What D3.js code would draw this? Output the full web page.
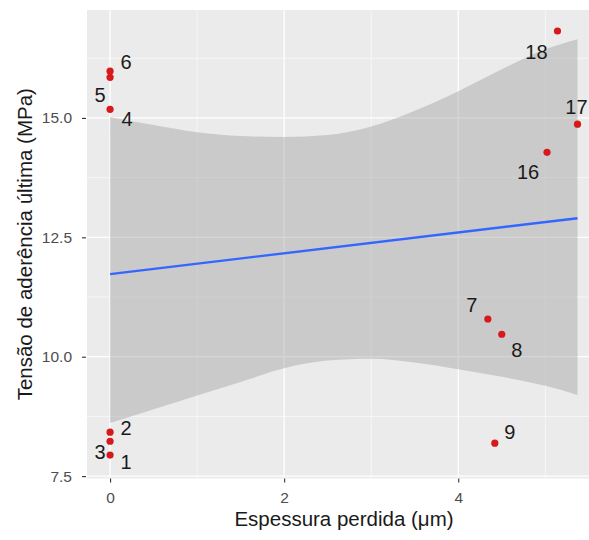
<!DOCTYPE html>
<html><head><meta charset="utf-8">
<script src="https://cdn.jsdelivr.net/npm/d3@7"></script>
<style>html,body{margin:0;padding:0;background:#fff;} svg{display:block;}</style>
</head><body>
<script>
// ---- data ----
const ids      = ["1","2","3","4","5","6","7","8","9","16","17","18"];
const xValues  = [0, 0, 0, 0, 0, 0, 4.34, 4.50, 4.42, 5.02, 5.37, 5.14];
const yValues  = [7.94, 8.42, 8.23, 15.18, 15.85, 15.98, 10.79, 10.47, 8.19, 14.28, 14.87, 16.82];
const fitX     = [0, 5.37];
const fitY     = [11.73, 12.90];
const bandX    = [0, 0.5, 1, 1.5, 2, 2.5, 3, 3.5, 4, 4.5, 5, 5.37];
const bandLow  = [8.61, 8.90, 9.19, 9.47, 9.76, 9.92, 9.96, 9.88, 9.74, 9.58, 9.39, 9.20];
const bandHigh = [15.02, 14.85, 14.70, 14.62, 14.60, 14.64, 14.82, 15.15, 15.56, 16.02, 16.44, 16.65];
const xTicks   = [0, 2, 4];
const yTicks   = [7.5, 10.0, 12.5, 15.0];
const xMinor   = [1, 3, 5];
const yMinor   = [8.75, 11.25, 13.75, 16.25];
const xTitle   = "Espessura perdida (μm)";
const yTitle   = "Tensão de aderência última (MPa)";
// label nudges (px) — layout, not data
const labelDx  = [16, 16, -10, 17, -10, 16, -16, 15, 15, -19, -1, -21];
const labelDy  = [7, -4, 11, 10, 18, -9, -14, 16, -11, 20, -17, 21];

// ---- layout ----
const W = 589, H = 540;
const P = {left: 87, right: 601, top: 10, bottom: 478.5};
const x = d3.scaleLinear().domain([-0.265, 5.64]).range([P.left, P.right]);
const y = d3.scaleLinear().domain([7.45, 17.26]).range([P.bottom, P.top]);

const svg = d3.select("body").append("svg").attr("width", W).attr("height", H)
  .style("font-family", "'Liberation Sans', Arial, sans-serif");

svg.append("rect").attr("x", P.left).attr("y", P.top)
  .attr("width", P.right - P.left).attr("height", P.bottom - P.top).attr("fill", "#EBEBEB");

const grid = svg.append("g");
grid.selectAll(".xm").data(xMinor).join("line")
  .attr("x1", d => x(d)).attr("x2", d => x(d)).attr("y1", P.top).attr("y2", P.bottom)
  .attr("stroke", "#fff").attr("stroke-width", 0.6);
grid.selectAll(".ym").data(yMinor).join("line")
  .attr("y1", d => y(d)).attr("y2", d => y(d)).attr("x1", P.left).attr("x2", P.right)
  .attr("stroke", "#fff").attr("stroke-width", 0.6);
grid.selectAll(".xM").data(xTicks).join("line")
  .attr("x1", d => x(d)).attr("x2", d => x(d)).attr("y1", P.top).attr("y2", P.bottom)
  .attr("stroke", "#fff").attr("stroke-width", 1.3);
grid.selectAll(".yM").data(yTicks).join("line")
  .attr("y1", d => y(d)).attr("y2", d => y(d)).attr("x1", P.left).attr("x2", P.right)
  .attr("stroke", "#fff").attr("stroke-width", 1.3);

// confidence band
const band = bandX.map((v, i) => ({x: v, lo: bandLow[i], hi: bandHigh[i]}));
svg.append("path").datum(band)
  .attr("d", d3.area().x(d => x(d.x)).y0(d => y(d.lo)).y1(d => y(d.hi)).curve(d3.curveMonotoneX))
  .attr("fill", "#999999").attr("fill-opacity", 0.4);

// regression line
const fit = fitX.map((v, i) => ({x: v, y: fitY[i]}));
svg.append("path").datum(fit)
  .attr("d", d3.line().x(d => x(d.x)).y(d => y(d.y)))
  .attr("fill", "none").attr("stroke", "#3366FF").attr("stroke-width", 2.4);

// points
const pts = ids.map((id, i) => ({id, x: xValues[i], y: yValues[i], dx: labelDx[i], dy: labelDy[i]}));
svg.append("g").selectAll("circle").data(pts).join("circle")
  .attr("cx", d => x(d.x)).attr("cy", d => y(d.y)).attr("r", 3.6)
  .attr("fill", "#D7191C");
svg.append("g").selectAll("text").data(pts).join("text")
  .attr("x", d => x(d.x) + d.dx).attr("y", d => y(d.y) + d.dy)
  .attr("text-anchor", "middle").attr("dominant-baseline", "central")
  .attr("font-size", 20).attr("fill", "#1a1a1a").text(d => d.id);

// axes
const ax = svg.append("g").attr("transform", `translate(0,${P.bottom})`)
  .call(d3.axisBottom(x).tickValues(xTicks).tickFormat(d3.format("d")).tickSize(4).tickPadding(9.5));
const ay = svg.append("g").attr("transform", `translate(${P.left - 1},0)`)
  .call(d3.axisLeft(y).tickValues(yTicks).tickFormat(d3.format(".1f")).tickSize(4).tickPadding(10));
[ax, ay].forEach(g => {
  g.select(".domain").remove();
  g.selectAll(".tick line").attr("stroke", "#333").attr("stroke-width", 1.1);
  g.selectAll(".tick text").attr("fill", "#4D4D4D").attr("font-size", 15.5)
   .style("font-family", "'Liberation Sans', Arial, sans-serif");
});

// titles
svg.append("text").attr("x", (P.left + P.right) / 2).attr("y", 526)
  .attr("text-anchor", "middle").attr("font-size", 20.5).attr("fill", "#1a1a1a").text(xTitle);
svg.append("text").attr("transform", `translate(32,${(P.top + P.bottom) / 2}) rotate(-90)`)
  .attr("text-anchor", "middle").attr("font-size", 20.5).attr("fill", "#1a1a1a").text(yTitle);
</script>
</body></html>
